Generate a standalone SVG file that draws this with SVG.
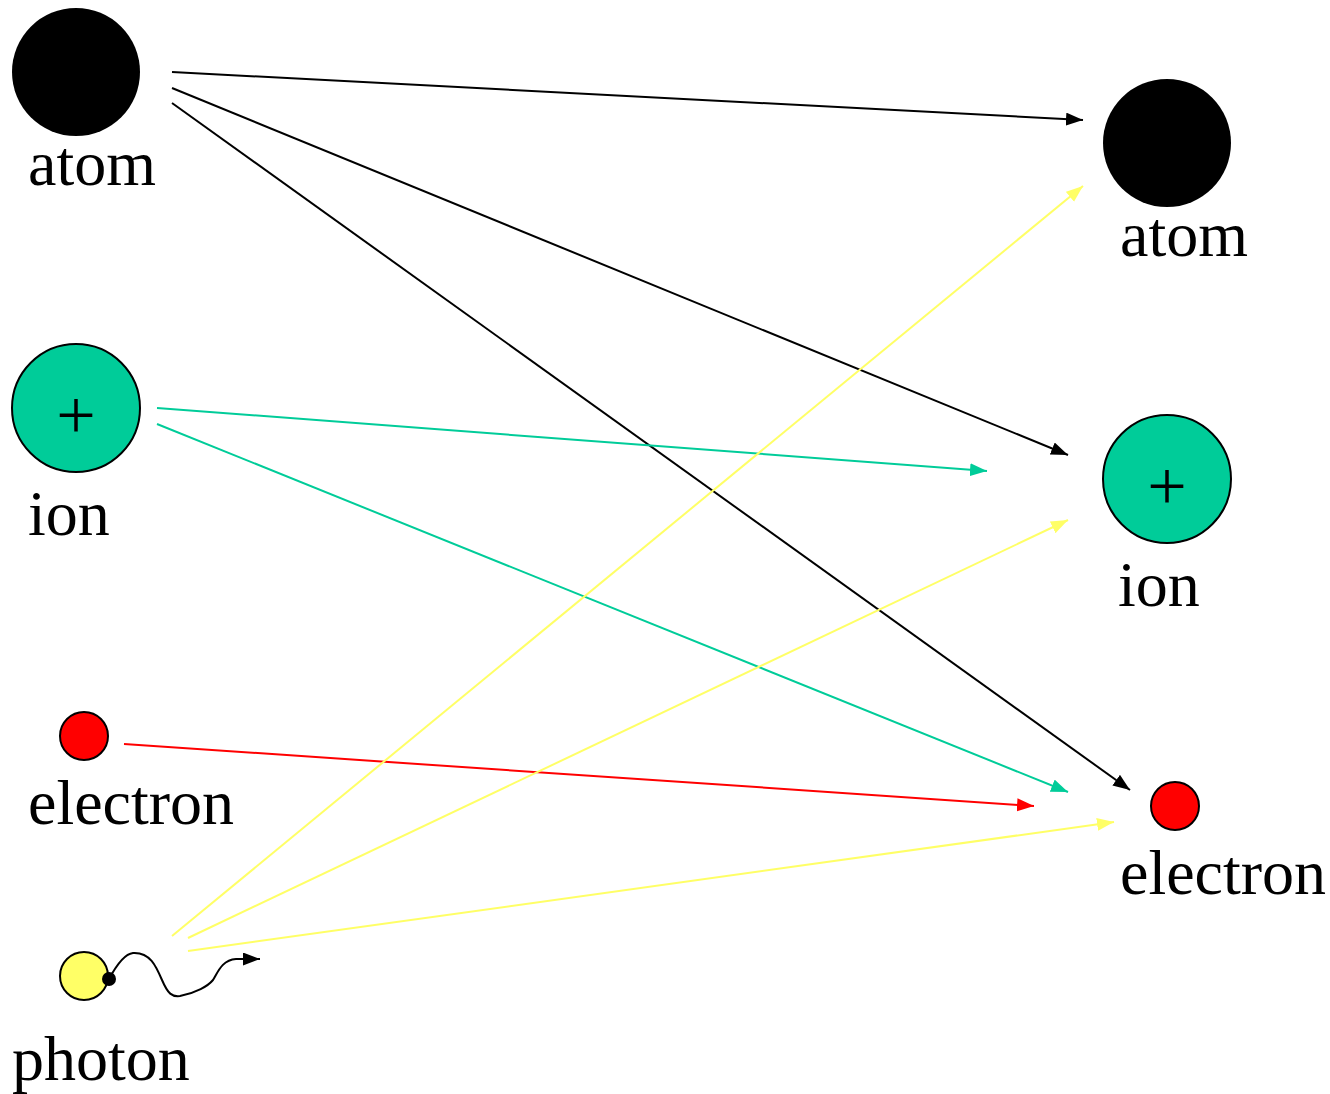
<svg xmlns="http://www.w3.org/2000/svg" width="1330" height="1094" viewBox="0 0 1330 1094">
<style>
.lbl{font-family:"Liberation Serif","Times New Roman",serif;font-size:64px;fill:#000}
.plus{font-family:"Liberation Serif","Times New Roman",serif;font-size:70px;fill:#000;text-anchor:middle}
.c{fill:none;stroke-width:2}
.k{stroke:#000}.g{stroke:#00CC99}.r{stroke:#FF0000}.y{stroke:#FFFF66}
</style>
<defs>
<marker id="mk" markerUnits="userSpaceOnUse" markerWidth="18" markerHeight="14" refX="17" refY="6.5" orient="auto"><path d="M0,0 L17,6.5 L0,13 z" fill="#000"/></marker>
<marker id="mg" markerUnits="userSpaceOnUse" markerWidth="18" markerHeight="14" refX="17" refY="6.5" orient="auto"><path d="M0,0 L17,6.5 L0,13 z" fill="#00CC99"/></marker>
<marker id="mr" markerUnits="userSpaceOnUse" markerWidth="18" markerHeight="14" refX="17" refY="6.5" orient="auto"><path d="M0,0 L17,6.5 L0,13 z" fill="#FF0000"/></marker>
<marker id="my" markerUnits="userSpaceOnUse" markerWidth="18" markerHeight="14" refX="17" refY="6.5" orient="auto"><path d="M0,0 L17,6.5 L0,13 z" fill="#FFFF66"/></marker>
</defs>
<rect width="1330" height="1094" fill="#fff"/>
<g id="connectors">
<line class="c k" x1="172" y1="72" x2="1083" y2="120" marker-end="url(#mk)"/>
<line class="c k" x1="172" y1="88" x2="1068" y2="455" marker-end="url(#mk)"/>
<line class="c k" x1="172" y1="103" x2="1130" y2="790" marker-end="url(#mk)"/>
<line class="c g" x1="157" y1="408" x2="987" y2="471" marker-end="url(#mg)"/>
<line class="c g" x1="157" y1="424" x2="1068" y2="792" marker-end="url(#mg)"/>
<line class="c r" x1="124" y1="744" x2="1034" y2="806" marker-end="url(#mr)"/>
<line class="c y" x1="172" y1="936" x2="1083" y2="186" marker-end="url(#my)"/>
<line class="c y" x1="188" y1="938" x2="1068" y2="520" marker-end="url(#my)"/>
<line class="c y" x1="188" y1="951" x2="1114" y2="822" marker-end="url(#my)"/>
</g>
<g id="atom-left"><circle cx="76" cy="72" r="64" fill="#000"/><text class="lbl" x="28" y="185">atom</text></g>
<g id="ion-left"><circle cx="76" cy="408" r="64" fill="#00CC99" stroke="#000" stroke-width="2"/><text class="plus" x="76" y="439">+</text><text class="lbl" x="28" y="535">ion</text></g>
<g id="electron-left"><circle cx="84" cy="736" r="24" fill="#FF0000" stroke="#000" stroke-width="2"/><text class="lbl" x="28" y="824">electron</text></g>
<g id="photon"><circle cx="84" cy="976" r="24" fill="#FFFF66" stroke="#000" stroke-width="2"/><circle cx="109" cy="979" r="7" fill="#000"/>
<path class="c k" d="M109,979 C116,966 124,954 133,953 C150,952 156,966 162,980 C168,994 172,997 180,996 C196,993 208,986 213,980 C218,972 222,960 236,959 L260,959" marker-end="url(#mk)"/>
<text class="lbl" x="12" y="1080">photon</text></g>
<g id="atom-right"><circle cx="1167" cy="143" r="64" fill="#000"/><text class="lbl" x="1120" y="256">atom</text></g>
<g id="ion-right"><circle cx="1167" cy="479" r="64" fill="#00CC99" stroke="#000" stroke-width="2"/><text class="plus" x="1167" y="510">+</text><text class="lbl" x="1118" y="606">ion</text></g>
<g id="electron-right"><circle cx="1175" cy="806" r="24" fill="#FF0000" stroke="#000" stroke-width="2"/><text class="lbl" x="1120" y="894">electron</text></g>
</svg>
